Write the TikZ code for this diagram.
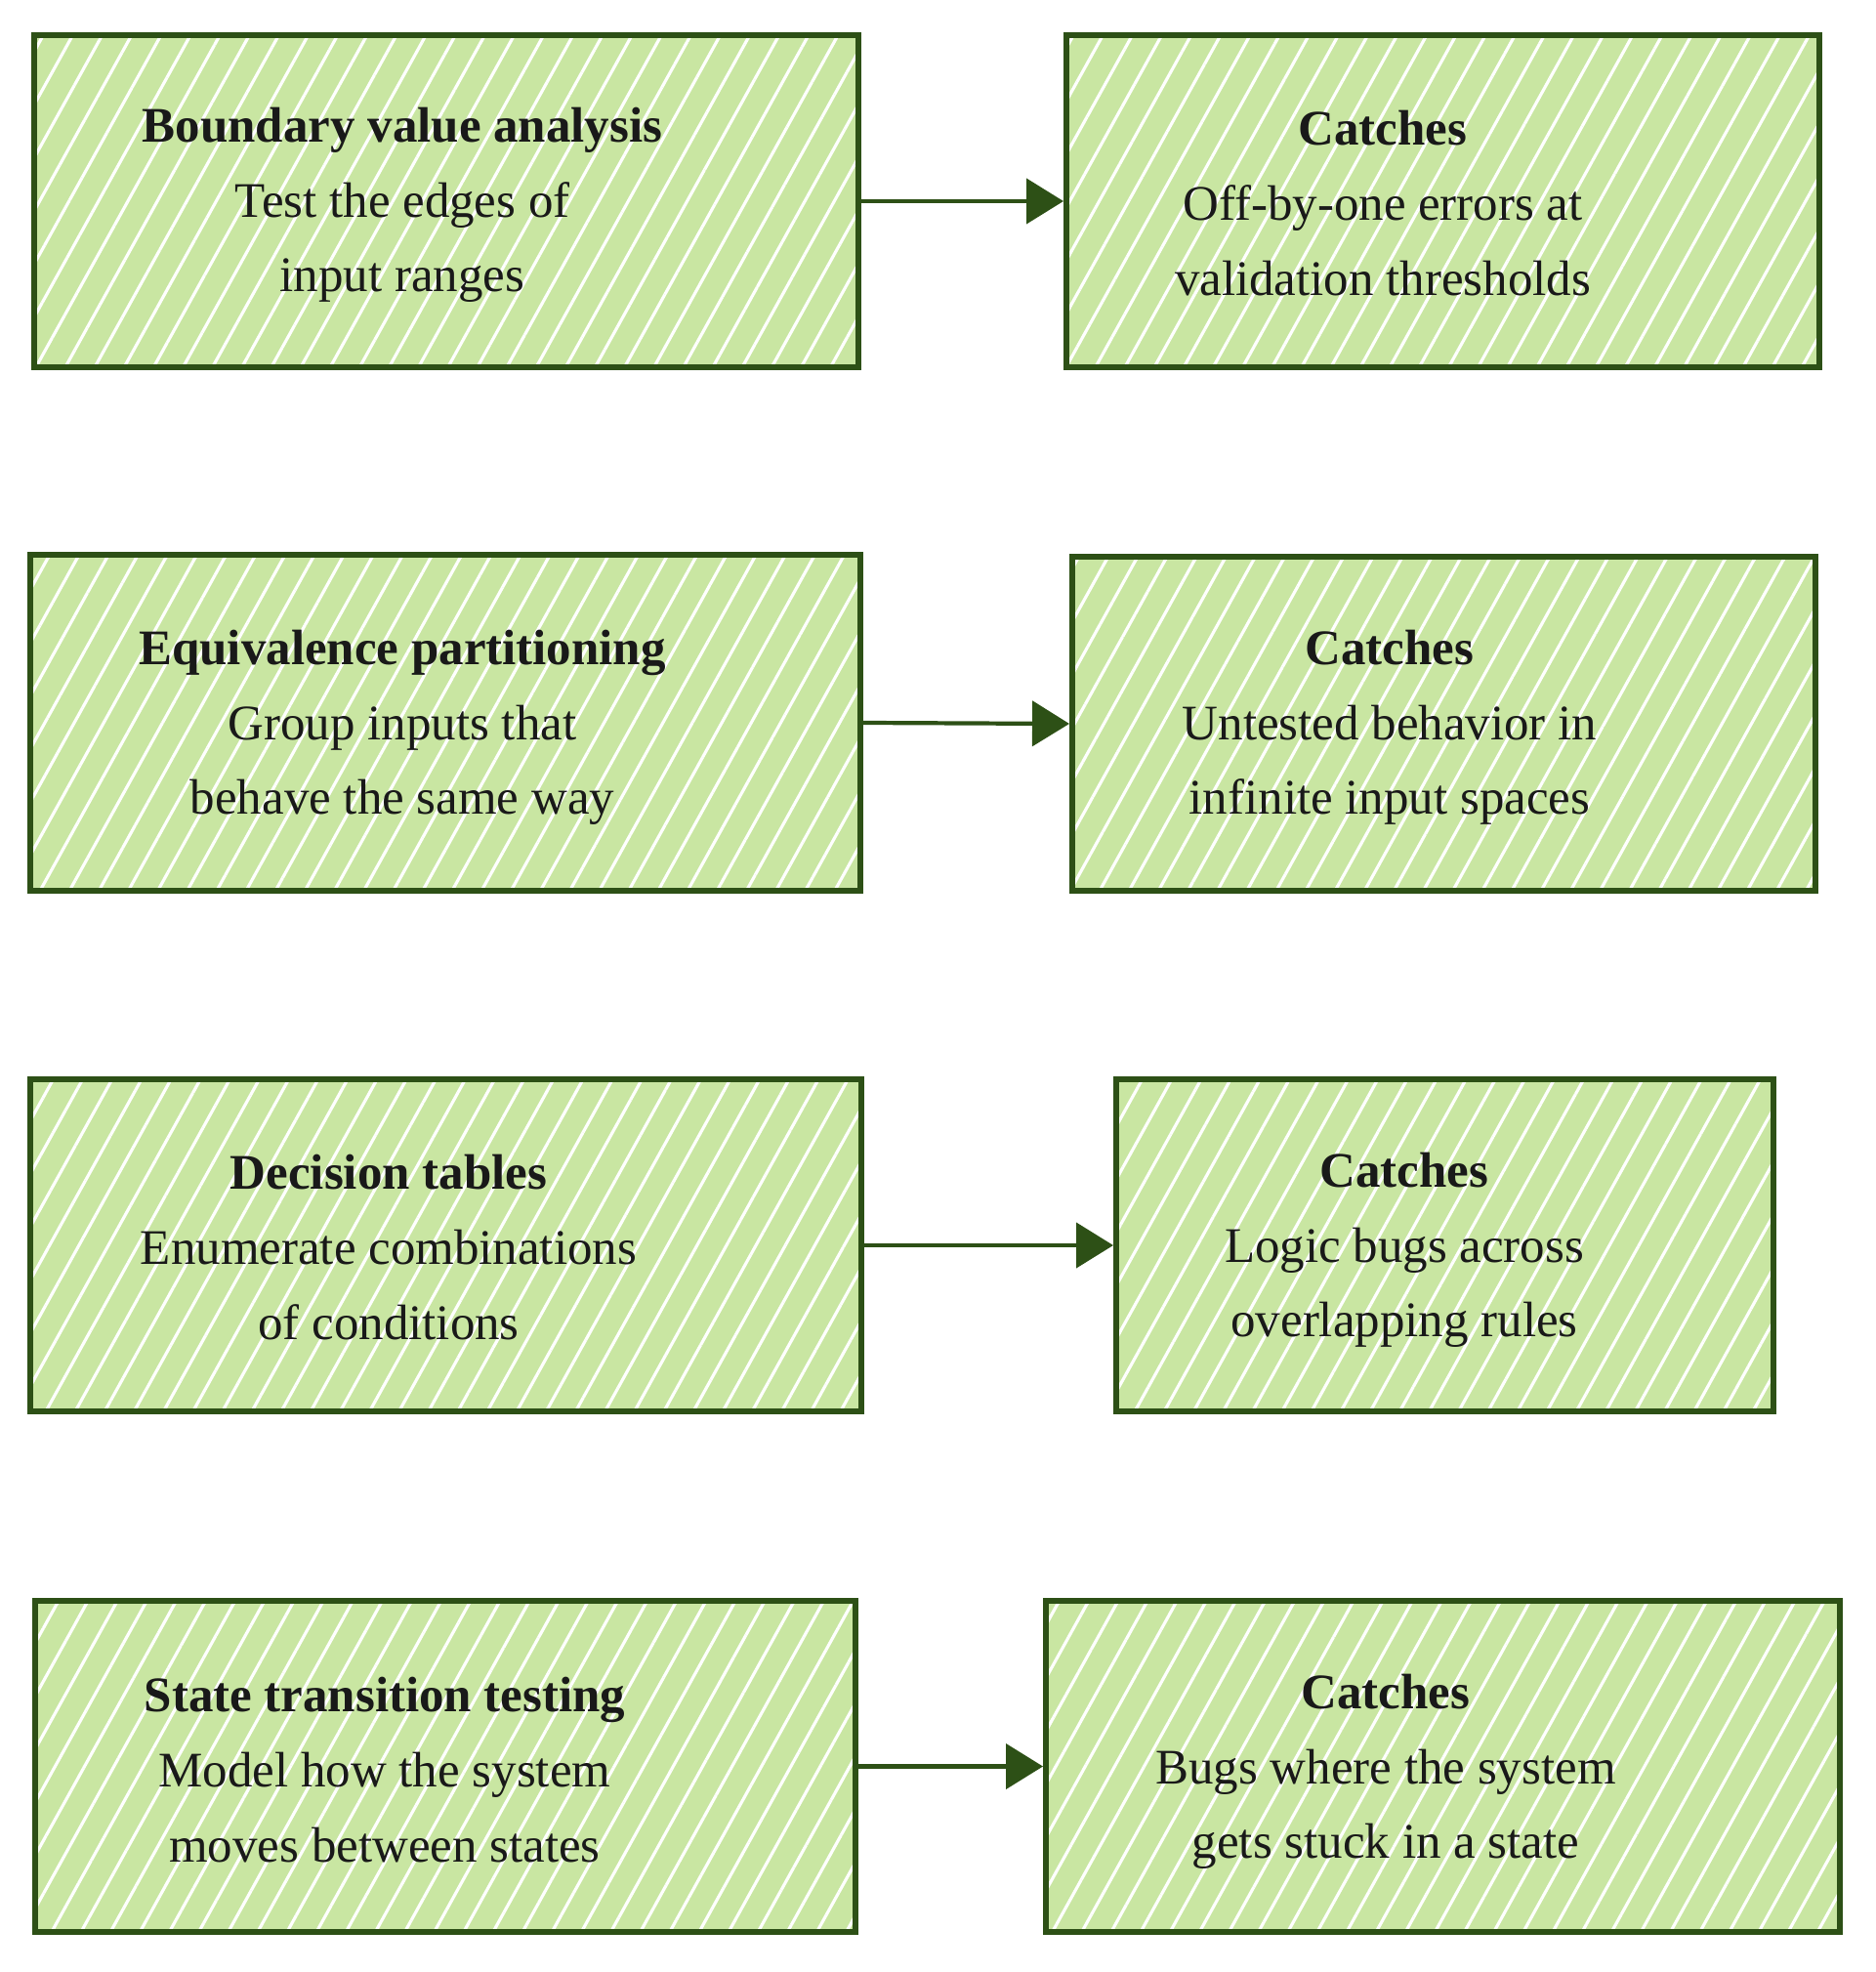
\documentclass[tikz,border=0pt]{standalone}
\usepackage{fontspec}
\setmainfont{Liberation Serif}
\usetikzlibrary{arrows.meta,patterns.meta}

\definecolor{verdescuro}{HTML}{2D5016}
\definecolor{verdechiaro}{HTML}{C9E6A2}

\tikzset{
    casella/.style={draw=verdescuro, line width=1.7pt, minimum height=3.4cm,
        preaction={fill=verdechiaro},
        pattern={Lines[angle=61,distance=7.5pt,line width=0.9pt]}, pattern color=white},
    testo/.style={align=center, font=\fontsize{14.5}{21.8}\selectfont, text=black!90},
    freccia/.style={draw=verdescuro, line width=1.2pt, -{Triangle[length=0.38cm,width=0.46cm]}}
}

\begin{document}
\begin{tikzpicture}
    \useasboundingbox (0,0) rectangle (19.2,-20.19);

    % Prima riga
    \node[casella, minimum width=8.44cm] (bva) at (4.57,-2.06) {};
    \node[casella, minimum width=7.71cm] (cbva) at (14.775,-2.06) {};
    \node[testo] (tbva) at (4.12,-2.10) {\textbf{Boundary value analysis}\\Test the edges of\\input ranges};
    \node[testo] (tcbva) at (14.16,-2.08) {\textbf{Catches}\\Off-by-one errors at\\validation thresholds};
    \draw[freccia] (bva.east) -- (cbva.west);

    % Seconda riga
    \node[casella, minimum width=8.50cm, minimum height=3.44cm] (ep) at (4.56,-7.40) {};
    \node[casella, minimum width=7.61cm, minimum height=3.42cm] (cep) at (14.785,-7.41) {};
    \node[testo] (tep) at (4.12,-7.45) {\textbf{Equivalence partitioning}\\Group inputs that\\behave the same way};
    \node[testo] (tcep) at (14.23,-7.45) {\textbf{Catches}\\Untested behavior in\\infinite input spaces};
    \draw[freccia] (ep.east) -- (cep.west);

    % Terza riga
    \node[casella, minimum width=8.51cm] (dt) at (4.565,-12.75) {};
    \node[casella, minimum width=6.73cm] (cdt) at (14.795,-12.75) {};
    \node[testo] (tdt) at (3.98,-12.77) {\textbf{Decision tables}\\Enumerate combinations\\of conditions};
    \node[testo] (tcdt) at (14.38,-12.80) {\textbf{Catches}\\Logic bugs across\\overlapping rules};
    \draw[freccia] (dt.east) -- (cdt.west);

    % Quarta riga
    \node[casella, minimum width=8.40cm, minimum height=3.39cm] (st) at (4.56,-18.085) {};
    \node[casella, minimum width=8.13cm, minimum height=3.39cm] (cst) at (14.775,-18.085) {};
    \node[testo] (tst) at (3.94,-18.12) {\textbf{State transition testing}\\Model how the system\\moves between states};
    \node[testo] (tcst) at (14.19,-18.14) {\textbf{Catches}\\Bugs where the system\\gets stuck in a state};
    \draw[freccia] (st.east) -- (cst.west);
\end{tikzpicture}
\end{document}
